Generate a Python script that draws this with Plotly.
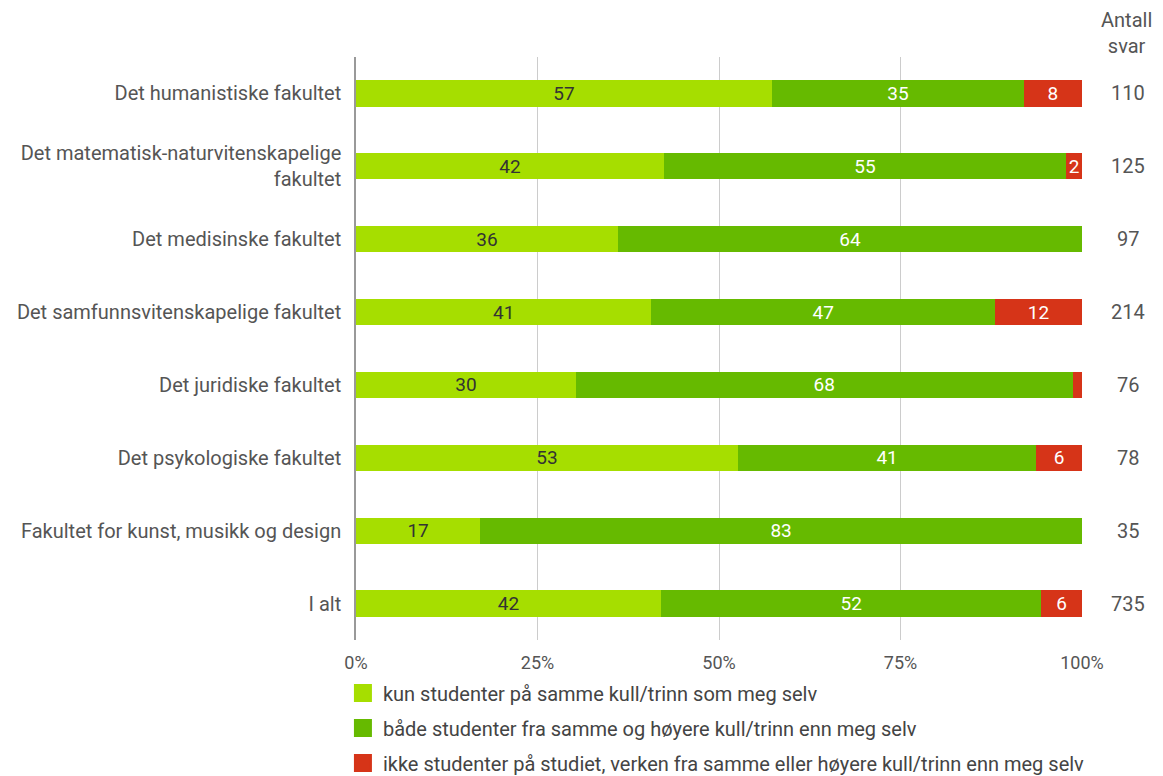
import plotly.graph_objects as go

fakulteter = [
    "Det humanistiske fakultet",
    "Det matematisk-naturvitenskapelige<br>fakultet",
    "Det medisinske fakultet",
    "Det samfunnsvitenskapelige fakultet",
    "Det juridiske fakultet",
    "Det psykologiske fakultet",
    "Fakultet for kunst, musikk og design",
    "I alt",
]
kun_samme = [57.3, 42.4, 36.1, 40.7, 30.3, 52.6, 17.1, 42.0]
samme_og_hoyere = [34.7, 55.4, 63.9, 47.3, 68.4, 41.1, 82.9, 52.4]
ikke_studenter = [8.0, 2.2, 0.0, 12.0, 1.3, 6.3, 0.0, 5.6]
antall_svar = [110, 125, 97, 214, 76, 78, 35, 735]
x_ticks = [0, 25, 50, 75, 100]
x_ticktekst = ["0%", "25%", "50%", "75%", "100%"]

serier = [
    ("kun studenter på samme kull/trinn som meg selv", kun_samme, "#a6de00", "#333333"),
    ("både studenter fra samme og høyere kull/trinn enn meg selv", samme_og_hoyere, "#66ba00", "white"),
    ("ikke studenter på studiet, verken fra samme eller høyere kull/trinn enn meg selv",
     ikke_studenter, "#d63418", "white"),
]

fig = go.Figure()
for i, (navn, verdier, farge, tekstfarge) in enumerate(serier):
    tekst = [f"{v:.0f}" if v >= 2 else "" for v in verdier]  # for smale felt får ikke etikett
    fig.add_trace(go.Bar(
        y=fakulteter, x=verdier, name=navn, orientation="h",
        marker=dict(color=farge, line=dict(width=0)),
        text=tekst, textposition="inside", insidetextanchor="middle",
        textangle=0, constraintext="none",
        textfont=dict(color=tekstfarge, size=19, family="Roboto"),
        legendgroup=f"g{i}", showlegend=False, width=0.36, hoverinfo="skip",
    ))
    # egen tegnforklaring med større firkant
    fig.add_trace(go.Scatter(
        x=[None], y=[None], mode="markers", name=navn, legendgroup=f"g{i}",
        marker=dict(symbol="square", size=16, color=farge, line=dict(color=farge, width=2)),
    ))

# antall svar til høyre
for f, n in zip(fakulteter, antall_svar):
    fig.add_annotation(x=1.063, y=f, xref="paper", yref="y", text=str(n),
                       xanchor="center", yanchor="middle", showarrow=False,
                       font=dict(size=20, color="#555555", family="Roboto"))
fig.add_annotation(x=1.061, y=1.041, xref="paper", yref="paper", text="Antall<br>svar",
                   xanchor="center", yanchor="middle", showarrow=False,
                   font=dict(size=20, color="#555555", family="Roboto"))

fig.update_layout(
    barmode="stack",
    width=1155, height=768,
    margin=dict(l=348, r=81, t=49, b=136, autoexpand=False),
    paper_bgcolor="white", plot_bgcolor="white",
    font=dict(family="Roboto", size=20, color="#555555"),
    legend=dict(orientation="v", x=-0.018, xanchor="left", y=-0.0575, yanchor="top",
                traceorder="grouped", tracegroupgap=6,
                font=dict(size=20, color="#444444")),
)
fig.update_xaxes(range=[0, 100], tickvals=x_ticks, ticktext=x_ticktekst,
                 showgrid=True, gridcolor="#cccccc", gridwidth=1, zeroline=False,
                 ticks="", ticklabelstandoff=10, tickfont=dict(size=18, color="#555555"))
fig.update_yaxes(autorange="reversed", categoryorder="array", categoryarray=fakulteter,
                 showline=True, linecolor="#999999", linewidth=1.5, ticks="",
                 ticklabelstandoff=9, tickfont=dict(size=20, color="#555555"))

fig.write_html("out.html")
